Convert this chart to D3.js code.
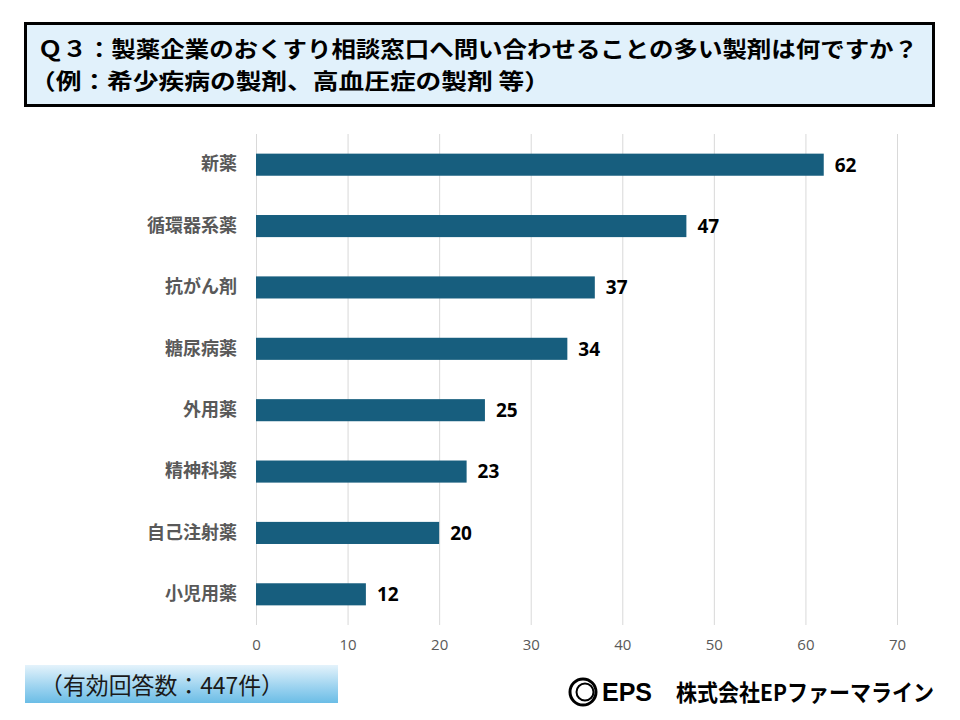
<!DOCTYPE html>
<html>
<head>
<meta charset="utf-8">
<script src="https://cdn.jsdelivr.net/npm/d3@7"></script>
<style>
  body { margin: 0; background: #fff; }
  svg { display: block; font-family: "Noto Sans CJK JP", "Noto Sans", sans-serif; }
</style>
</head>
<body>
<div id="chart"></div>
<script>
// data
let categories = ["新薬", "循環器系薬", "抗がん剤", "糖尿病薬", "外用薬", "精神科薬", "自己注射薬", "小児用薬"]
let values = [62, 47, 37, 34, 25, 23, 20, 12]
let x_ticks = [0, 10, 20, 30, 40, 50, 60, 70]
let title_lines = ["Ｑ３：製薬企業のおくすり相談窓口へ問い合わせることの多い製剤は何ですか？", "（例：希少疾病の製剤、高血圧症の製剤 等）"]
let note_text = "（有効回答数：447件）"
let company_text = "株式会社EPファーマライン"

let svgWidth = 960
let svgHeight = 720
let padding = { left: 256, right: 63, top: 134, bottom: 95 }

let svg = d3.select('#chart').append('svg')
    .attr('width', svgWidth)
    .attr('height', svgHeight)

// title box
svg.append('rect')
    .attr('x', 25.5).attr('y', 23.5)
    .attr('width', 908).attr('height', 82)
    .attr('fill', '#e1f1fb')
    .attr('stroke', '#000')
    .attr('stroke-width', 3)

svg.selectAll('.title')
    .data(title_lines)
    .enter()
    .append('text')
    .attr('class', 'title')
    .attr('x', (d, i) => i == 0 ? 38 : 30)
    .attr('y', (d, i) => 57 + i * 32)
    .attr('font-size', 22)
    .attr('font-weight', 'bold')
    .attr('fill', '#000')
    .attr('textLength', (d, i) => i == 0 ? 880 : 520)
    .attr('lengthAdjust', 'spacingAndGlyphs')
    .text(d => d)

let x = d3.scaleLinear()
    .domain([0, 70])
    .range([padding.left, svgWidth - padding.right])
let y = d3.scaleBand()
    .domain(categories)
    .range([padding.top, svgHeight - padding.bottom])
    .paddingInner(0.64)
    .paddingOuter(0.32)

// gridlines
svg.append('g')
    .selectAll('line')
    .data(x_ticks)
    .enter()
    .append('line')
    .attr('x1', d => x(d) + 0.5)
    .attr('x2', d => x(d) + 0.5)
    .attr('y1', padding.top)
    .attr('y2', svgHeight - padding.bottom)
    .attr('stroke', '#d9d9d9')
    .attr('stroke-width', 1)

// x axis labels
let axis_x = d3.axisBottom(x)
    .tickValues(x_ticks)
    .tickSize(0)
    .tickPadding(14)
    .tickFormat(d => d)
let gx = svg.append('g')
    .attr('transform', `translate(0, ${svgHeight - padding.bottom})`)
    .call(axis_x)
gx.select('.domain').remove()
gx.selectAll('text')
    .attr('font-size', 15)
    .attr('fill', '#595959')
    .attr('font-family', '"Open Sans", "Noto Sans", sans-serif')

// y axis labels
let axis_y = d3.axisLeft(y).tickSize(0).tickPadding(19)
let gy = svg.append('g')
    .attr('transform', `translate(${padding.left}, 0)`)
    .call(axis_y)
gy.select('.domain').remove()
gy.selectAll('text')
    .attr('font-size', 18)
    .attr('font-weight', 'bold')
    .attr('fill', '#595959')
    .attr('font-family', '"Noto Sans CJK JP", sans-serif')

// bars
svg.append('g')
    .selectAll('rect')
    .data(values)
    .enter()
    .append('rect')
    .attr('x', x(0))
    .attr('y', (d, i) => y(categories[i]))
    .attr('width', d => x(d) - x(0))
    .attr('height', y.bandwidth())
    .attr('fill', '#175e7e')

// value labels
svg.append('g')
    .selectAll('text')
    .data(values)
    .enter()
    .append('text')
    .attr('x', d => x(d) + 11)
    .attr('y', (d, i) => y(categories[i]) + y.bandwidth() / 2)
    .attr('dy', '0.36em')
    .attr('font-size', 19)
    .attr('font-weight', 'bold')
    .attr('fill', '#000')
    .attr('font-family', '"Open Sans", "Noto Sans", sans-serif')
    .text(d => d)

// note box with gradient
let defs = svg.append('defs')
let grad = defs.append('linearGradient')
    .attr('id', 'noteGrad')
    .attr('x1', 0).attr('y1', 0).attr('x2', 0).attr('y2', 1)
grad.append('stop').attr('offset', '0%').attr('stop-color', '#e4f3fb')
grad.append('stop').attr('offset', '55%').attr('stop-color', '#9fd4f0')
grad.append('stop').attr('offset', '100%').attr('stop-color', '#6bbde6')

svg.append('rect')
    .attr('x', 25).attr('y', 665)
    .attr('width', 313).attr('height', 38)
    .attr('fill', 'url(#noteGrad)')
svg.append('text')
    .attr('x', 40).attr('y', 694)
    .attr('font-size', 23)
    .attr('fill', '#1a1a1a')
    .attr('textLength', 244)
    .attr('lengthAdjust', 'spacingAndGlyphs')
    .text(note_text)

// logo
let logo = svg.append('g')
logo.append('circle')
    .attr('cx', 583).attr('cy', 692)
    .attr('r', 13)
    .attr('fill', 'none')
    .attr('stroke', '#000')
    .attr('stroke-width', 3)
logo.append('circle')
    .attr('cx', 585).attr('cy', 692)
    .attr('r', 8.5)
    .attr('fill', 'none')
    .attr('stroke', '#000')
    .attr('stroke-width', 2)
logo.append('text')
    .attr('x', 602).attr('y', 701)
    .attr('font-size', 25)
    .attr('font-weight', 'bold')
    .attr('font-family', '"Liberation Sans", Arial, sans-serif')
    .attr('fill', '#000')
    .text('EPS')
logo.append('text')
    .attr('x', 676).attr('y', 701)
    .attr('font-size', 23)
    .attr('font-weight', 'bold')
    .attr('fill', '#000')
    .attr('textLength', 258)
    .attr('lengthAdjust', 'spacingAndGlyphs')
    .text(company_text)
</script>
</body>
</html>
